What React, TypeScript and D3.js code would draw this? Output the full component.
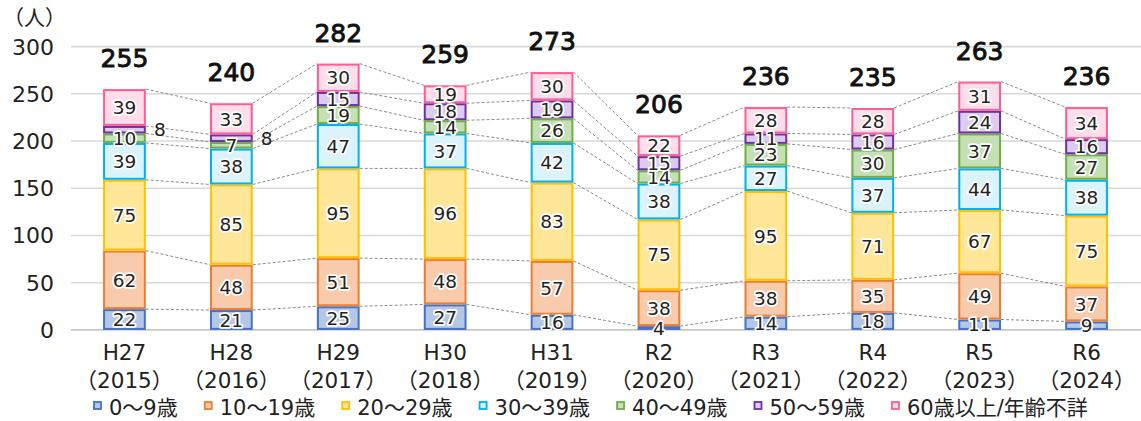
import React from 'react';
import * as d3 from 'd3';

const categories = ['H27', 'H28', 'H29', 'H30', 'H31', 'R2', 'R3', 'R4', 'R5', 'R6'];
const years = ['2015', '2016', '2017', '2018', '2019', '2020', '2021', '2022', '2023', '2024'];
const seriesNames = ['0～9歳', '10～19歳', '20～29歳', '30～39歳', '40～49歳', '50～59歳', '60歳以上/年齢不詳'];
const age0to9 = [22, 21, 25, 27, 16, 4, 14, 18, 11, 9];
const age10to19 = [62, 48, 51, 48, 57, 38, 38, 35, 49, 37];
const age20to29 = [75, 85, 95, 96, 83, 75, 95, 71, 67, 75];
const age30to39 = [39, 38, 47, 37, 42, 38, 27, 37, 44, 38];
const age40to49 = [10, 7, 19, 14, 26, 14, 23, 30, 37, 27];
const age50to59 = [8, 8, 15, 18, 19, 15, 11, 16, 24, 16];
const age60plus = [39, 33, 30, 19, 30, 22, 28, 28, 31, 34];
const yTicks = [0, 50, 100, 150, 200, 250, 300];
// labels drawn beside the bar instead of inside: [category index, series index]
const outsideLabels = [[0, 5], [1, 5]];

const seriesValues = [age0to9, age10to19, age20to29, age30to39, age40to49, age50to59, age60plus];
const strokeColors = ['#4472C4', '#ED7D31', '#FFC000', '#00B0F0', '#70AD47', '#7030A0', '#FF5C93'];
const fillColors = ['#B4C7E7', '#F8CBAD', '#FFE699', '#DAF3FD', '#C5E0B4', '#DCCDF0', '#FFDDEB'];

const W = 1141;
const H = 421;
const FONT = "'DejaVu Sans', 'Noto Sans CJK JP', sans-serif";

function measure(text: string, size: number): number {
  if (typeof document === 'undefined') return text.length * size;
  const c = document.createElement('canvas');
  const ctx = c.getContext('2d');
  if (!ctx) return text.length * size;
  ctx.font = `${size}px ${FONT}`;
  return ctx.measureText(text).width;
}

export default function App() {
  const x = d3.scaleBand<string>().domain(categories).range([71, 1140]).paddingInner(0.6).paddingOuter(0.3);
  const y = d3.scaleLinear().domain([0, 300]).range([329.9, 46.6]);
  const bw = x.bandwidth();

  const idx = d3.range(categories.length);
  const stacked = d3
    .stack<number, number>()
    .keys(d3.range(seriesValues.length))
    .value((i, k) => seriesValues[k][i])(idx);

  const totals = idx.map((i) => d3.sum(seriesValues, (s) => s[i]));

  const legendFont = 21;
  const legendX: number[] = [];
  let lx = 93;
  seriesNames.forEach((n) => {
    legendX.push(lx);
    lx += 16 + measure(n, legendFont) + 26;
  });

  const isOutside = (ci: number, si: number) => outsideLabels.some(([a, b]) => a === ci && b === si);

  return (
    <svg width={W} height={H} style={{ position: 'fixed', left: 0, top: 0, background: '#fff' }} fontFamily={FONT}>
      <text x={3} y={25} fontSize={21} fill="#222">（人）</text>
      {yTicks.map((t) => (
        <g key={t}>
          <line x1={71} x2={1141} y1={y(t)} y2={y(t)} stroke={t === 0 ? '#c8c8c8' : '#d9d9d9'} strokeWidth={1.6} />
          <text x={54} y={y(t)} dy="0.36em" textAnchor="end" fontSize={22} fill="#222">{t}</text>
        </g>
      ))}
      {/* connector lines */}
      {stacked.map((layer, k) => (
        <g key={'c' + k}>
          {idx.slice(0, -1).map((i) => (
            <line
              key={i}
              x1={(x(categories[i]) as number) + bw}
              x2={x(categories[i + 1]) as number}
              y1={y(layer[i][1])}
              y2={y(layer[i + 1][1])}
              stroke="#8c8c8c"
              strokeWidth={1}
              strokeDasharray="3,2"
            />
          ))}
        </g>
      ))}
      {/* bars */}
      {stacked.map((layer, k) => (
        <g key={'b' + k}>
          {layer.map((d, i) => (
            <rect
              key={i}
              x={(x(categories[i]) as number) + 1}
              y={y(d[1]) + 1}
              width={bw - 2}
              height={Math.max(0, y(d[0]) - y(d[1]) - 2)}
              fill={fillColors[k]}
              stroke={strokeColors[k]}
              strokeWidth={2}
            />
          ))}
        </g>
      ))}
      {/* segment labels */}
      {stacked.map((layer, k) => (
        <g key={'l' + k}>
          {layer.map((d, i) => {
            const out = isOutside(i, k);
            const cx = (x(categories[i]) as number) + (out ? bw + 14 : bw / 2);
            const cy = (y(d[0]) + y(d[1])) / 2;
            return (
              <text
                key={i}
                x={cx}
                y={cy}
                dy="0.36em"
                textAnchor="middle"
                fontSize={18.5}
                fill="#222"
                stroke="#fff"
                strokeWidth={out ? 0 : 3.5}
                strokeLinejoin="round"
                paintOrder="stroke"
              >
                {seriesValues[k][i]}
              </text>
            );
          })}
        </g>
      ))}
      {/* totals */}
      {idx.map((i) => (
        <text
          key={'t' + i}
          x={(x(categories[i]) as number) + bw / 2}
          y={y(totals[i]) - 22}
          textAnchor="middle"
          fontSize={25}
          fill="#111"
          stroke="#111"
          strokeWidth={0.9}
        >
          {totals[i]}
        </text>
      ))}
      {/* category axis */}
      {idx.map((i) => (
        <g key={'x' + i}>
          <text x={(x(categories[i]) as number) + bw / 2} y={360} textAnchor="middle" fontSize={21.5} fill="#222">
            {categories[i]}
          </text>
          <text x={(x(categories[i]) as number) + bw / 2} y={388} textAnchor="middle" fontSize={21.5} fill="#222">
            {`（${years[i]}）`}
          </text>
        </g>
      ))}
      {/* legend */}
      {seriesNames.map((n, k) => (
        <g key={'lg' + k}>
          <rect x={legendX[k] + 1} y={402} width={7} height={7} fill={fillColors[k]} stroke={strokeColors[k]} strokeWidth={1.8} />
          <text x={legendX[k] + 16} y={415} fontSize={legendFont} fill="#222">{n}</text>
        </g>
      ))}
    </svg>
  );
}
